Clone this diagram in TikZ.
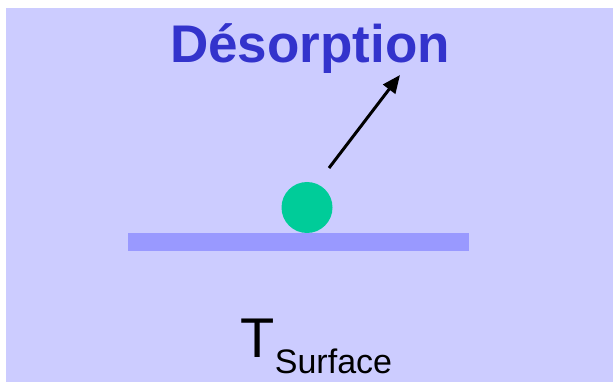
\documentclass[tikz,border=0pt]{standalone}
\usepackage{fontspec}
\setmainfont{Liberation Sans}
\usetikzlibrary{arrows.meta}
\definecolor{bgcol}{HTML}{CCCCFF}
\definecolor{barcol}{HTML}{9999FF}
\definecolor{ballcol}{HTML}{00CC99}
\definecolor{titlecol}{HTML}{3333CC}
\tikzset{
  panel/.style={fill=bgcol, draw=none},
  surfacebar/.style={fill=barcol, draw=none},
  ball/.style={circle, fill=ballcol, draw=none, minimum size=51pt, inner sep=0pt},
  titletext/.style={anchor=base west, inner sep=0pt, text=titlecol, font=\fontsize{53}{60}\selectfont\bfseries},
  labeltext/.style={anchor=base west, inner sep=0pt, text=black, font=\fontsize{56}{60}\selectfont},
  motion/.style={line width=3pt, -{Triangle[length=18pt,width=15pt]}}
}
\begin{document}
\begin{tikzpicture}[x=1pt,y=-1pt]
\useasboundingbox (0,0) rectangle (613,382);
\fill[panel] (6,8) rectangle (613,382);
\fill[surfacebar] (128,233) rectangle (469,251);
\node[ball] (ball) at (307,207.5) {};
\node[titletext] (title) at (170,62.5) {Désorption};
\node[labeltext] (tsurf) at (240.5,357) {T\raisebox{-16pt}{\fontsize{34}{40}\selectfont Surface}};
\coordinate (astart) at (329,168);
\coordinate (atip) at (400,75);
\draw[motion] (astart) -- (atip);
\end{tikzpicture}
\end{document}
